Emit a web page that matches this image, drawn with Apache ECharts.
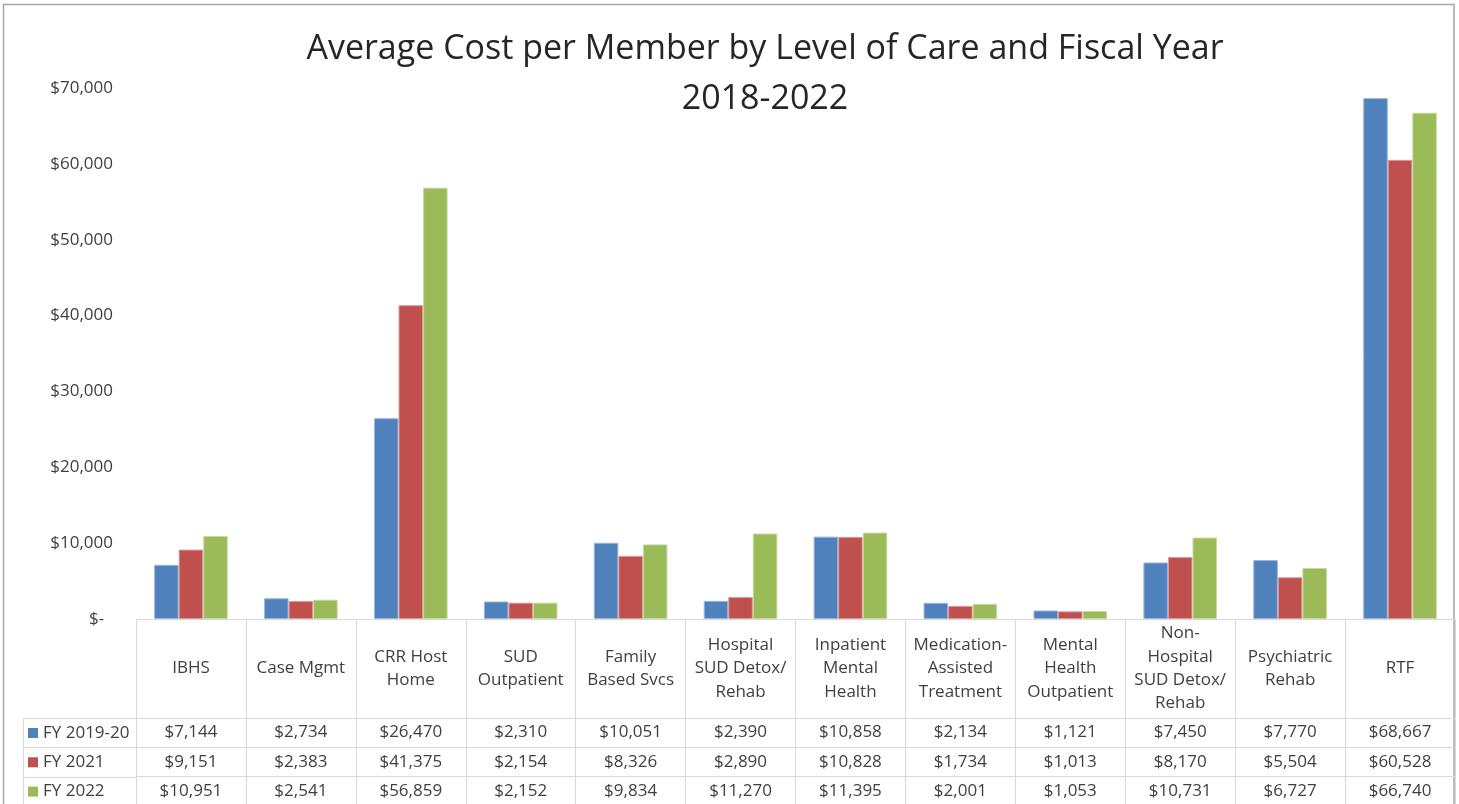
<!DOCTYPE html>
<html>
<head>
<meta charset="utf-8">
<script src="https://cdn.jsdelivr.net/npm/echarts@6/dist/echarts.min.js"></script>
<style>
  html, body { margin: 0; padding: 0; background: #ffffff; }
  #chart { width: 1459px; height: 804px; }
</style>
</head>
<body>
<div id="chart"></div>
<script>
// Levels of care (x categories, with line breaks as shown in the data table header)
const categories = [
  'IBHS', 'Case Mgmt', 'CRR Host\nHome', 'SUD\nOutpatient', 'Family\nBased Svcs',
  'Hospital\nSUD Detox/\nRehab', 'Inpatient\nMental\nHealth', 'Medication-\nAssisted\nTreatment',
  'Mental\nHealth\nOutpatient', 'Non-\nHospital\nSUD Detox/\nRehab', 'Psychiatric\nRehab', 'RTF'
];

// Fiscal-year series names
const seriesNames = ['FY 2019-20', 'FY 2021', 'FY 2022'];

// Average cost per member, one array per fiscal year
const fy2019_20 = [7144, 2734, 26470, 2310, 10051, 2390, 10858, 2134, 1121, 7450, 7770, 68667];
const fy2021    = [9151, 2383, 41375, 2154, 8326, 2890, 10828, 1734, 1013, 8170, 5504, 60528];
const fy2022    = [10951, 2541, 56859, 2152, 9834, 11270, 11395, 2001, 1053, 10731, 6727, 66740];

// Value axis ticks
const yMin = 0;
const yMax = 70000;
const yStep = 10000;

const seriesValues = [fy2019_20, fy2021, fy2022];
const colors = ['#4f81bd', '#c0504d', '#9bbb59'];
const edgeColors = ['#9ab6dc', '#dc9b99', '#c6da9f'];

const FONT = 'Open Sans';
const TEXT = '#404040';
const RULE = '#d9d9d9';

// Plot / table layout
const GRID_LEFT = 136;
const GRID_RIGHT = 4;
const GRID_TOP = 88;
const GRID_BOTTOM = 185;
const HEADER_H = 99;          // height of the category header row
const ROW_H = 29.3;           // height of each value row
const LEGEND_COL_X = 23;      // left edge of the series-name column

const money = v => '$' + v.toLocaleString('en-US');

const chart = echarts.init(document.getElementById('chart'), null, { renderer: 'canvas' });
const H = 804;
const axisY = H - GRID_BOTTOM;

// Category header axis: its long ticks form the table's column rules
const headerAxis = {
  type: 'category',
  data: categories,
  position: 'bottom',
  axisLine: { show: true, onZero: false, lineStyle: { color: RULE, width: 1 } },
  axisTick: { show: true, length: 200, lineStyle: { color: RULE, width: 1 } },
  axisLabel: {
    interval: 0, margin: HEADER_H / 2, verticalAlign: 'middle',
    fontFamily: FONT, fontSize: 17, lineHeight: 23.3, color: TEXT
  },
  splitLine: { show: false }
};

// One extra axis per fiscal year: the row rule plus the row's values
const rowAxes = seriesValues.map((vals, k) => ({
  type: 'category',
  data: categories,
  position: 'bottom',
  offset: HEADER_H + k * ROW_H,
  axisLine: { show: true, onZero: false, lineStyle: { color: RULE, width: 1 } },
  axisTick: { show: false },
  axisLabel: {
    interval: 0, margin: ROW_H / 2, verticalAlign: 'middle',
    fontFamily: FONT, fontSize: 17, color: TEXT,
    formatter: (v, i) => money(vals[i])
  },
  splitLine: { show: false }
}));

// Rules of the series-name column to the left of the value rows
const legendRules = [];
for (let k = 0; k < seriesValues.length; k++) {
  const y = Math.round(axisY + HEADER_H + k * ROW_H) + 0.5;
  legendRules.push({
    type: 'line', silent: true,
    shape: { x1: LEGEND_COL_X, y1: y, x2: GRID_LEFT, y2: y },
    style: { stroke: RULE, lineWidth: 1 }
  });
}
legendRules.push({
  type: 'line', silent: true,
  shape: { x1: LEGEND_COL_X + 0.5, y1: axisY + HEADER_H, x2: LEGEND_COL_X + 0.5, y2: H + 10 },
  style: { stroke: RULE, lineWidth: 1 }
});

const option = {
  animation: false,
  backgroundColor: '#ffffff',
  color: colors,
  title: {
    text: 'Average Cost per Member by Level of Care and Fiscal Year\n2018-2022',
    left: 760, top: 19, textAlign: 'center',
    textStyle: { fontFamily: FONT, fontSize: 34, lineHeight: 50, fontWeight: 'normal', color: '#262626' }
  },
  legend: {
    data: seriesNames,
    orient: 'vertical',
    left: LEGEND_COL_X + 5, top: axisY + HEADER_H + 5,
    padding: 0,
    icon: 'rect', itemWidth: 10, itemHeight: 10, itemGap: ROW_H - 20,
    itemStyle: { borderWidth: 0 },
    textStyle: { fontFamily: FONT, fontSize: 17, lineHeight: 20, color: TEXT }
  },
  grid: { left: GRID_LEFT, right: GRID_RIGHT, top: GRID_TOP, bottom: GRID_BOTTOM, containLabel: false },
  xAxis: [headerAxis].concat(rowAxes),
  yAxis: {
    type: 'value',
    min: yMin, max: yMax, interval: yStep,
    axisLine: { show: false },
    axisTick: { show: false },
    splitLine: { show: false },
    axisLabel: {
      margin: 23, fontFamily: FONT, fontSize: 17, color: TEXT,
      formatter: v => (v === 0 ? '$-\u00a0\u00a0' : money(v))
    }
  },
  series: seriesNames.map((name, k) => ({
    name,
    type: 'bar',
    xAxisIndex: 0,
    data: seriesValues[k],
    barGap: '0%',
    barCategoryGap: '33%',
    itemStyle: { color: colors[k], borderColor: edgeColors[k], borderWidth: 1 }
  })),
  graphic: [
    {
      type: 'rect', silent: true,
      shape: { x: 3.5, y: 4.5, width: 1450.5, height: 830 },
      style: { fill: 'none', stroke: '#a6a6a6', lineWidth: 1.5 }
    }
  ].concat(legendRules)
};

chart.setOption(option);
</script>
</body>
</html>
